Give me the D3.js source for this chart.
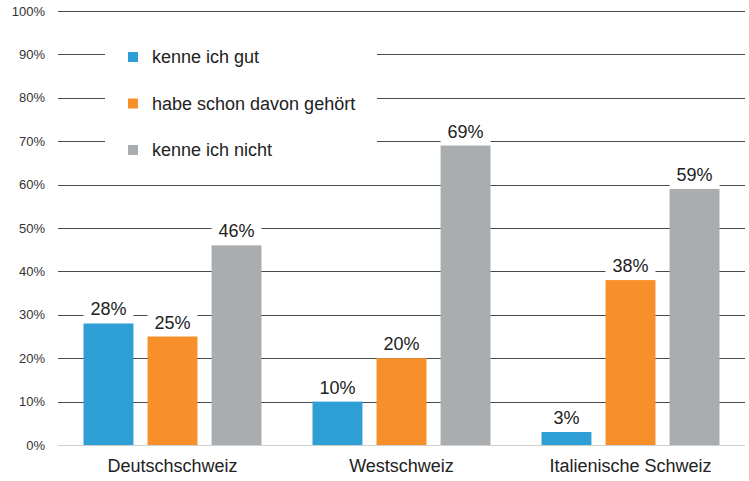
<!DOCTYPE html>
<html>
<head>
<meta charset="utf-8">
<script src="https://cdn.jsdelivr.net/npm/d3@7"></script>
<style>
  body { margin: 0; background: #fff; }
  text { font-family: "Liberation Sans", Arial, sans-serif; }
</style>
</head>
<body>
<div id="chart"></div>
<script>
var regions = ["Deutschschweiz", "Westschweiz", "Italienische Schweiz"];
var seriesNames = ["kenne ich gut", "habe schon davon gehört", "kenne ich nicht"];
var kenneGut = [28, 10, 3];
var schonGehoert = [25, 20, 38];
var kenneNicht = [46, 69, 59];
var yTicks = [0, 10, 20, 30, 40, 50, 60, 70, 80, 90, 100];
var colors = ["#2e9fd5", "#f7902b", "#aaadb0"];

var width = 749, height = 481;
var seriesValues = [kenneGut, schonGehoert, kenneNicht];

var svg = d3.select("#chart").append("svg")
    .attr("width", width)
    .attr("height", height);

var x0 = d3.scaleBand().domain(regions).range([58, 745]).padding(0);
var x1 = d3.scaleBand().domain(seriesNames).range([25.5, 203.5]).paddingInner(0.22);
var y = d3.scaleLinear().domain([0, 100]).range([445, 11]);

// gridlines
svg.append("g").selectAll("line")
    .data(yTicks)
    .enter().append("line")
    .attr("x1", 58).attr("x2", 745)
    .attr("y1", d => Math.round(y(d)) + 0.5)
    .attr("y2", d => Math.round(y(d)) + 0.5)
    .attr("stroke", d => d === 0 ? "#cfcfcf" : "#4a4a4a")
    .attr("stroke-width", 1);

// y tick labels
svg.append("g").selectAll("text")
    .data(yTicks)
    .enter().append("text")
    .attr("x", 45)
    .attr("y", d => y(d))
    .attr("dy", "0.35em")
    .attr("text-anchor", "end")
    .style("font-size", "13px")
    .attr("fill", "#333")
    .text(d => d + "%");

// legend box hides gridlines
svg.append("rect")
    .attr("x", 105).attr("y", 22)
    .attr("width", 272).attr("height", 150)
    .attr("fill", "#fff");

var legend = svg.append("g").selectAll("g")
    .data(seriesNames)
    .enter().append("g")
    .attr("transform", (d, i) => "translate(128," + (52 + i * 46.5) + ")");

legend.append("rect")
    .attr("width", 10).attr("height", 10)
    .attr("fill", (d, i) => colors[i]);

legend.append("text")
    .attr("x", 24).attr("y", 5)
    .attr("dy", "0.35em")
    .style("font-size", "18px")
    .attr("fill", "#222")
    .text(d => d);

// flatten for bars
var bars = [];
regions.forEach(function(r, ri) {
    seriesNames.forEach(function(s, si) {
        bars.push({ region: r, series: s, si: si, value: seriesValues[si][ri] });
    });
});

var groups = svg.append("g");

// white backing behind value labels
groups.selectAll(".labelbg")
    .data(bars)
    .enter().append("rect")
    .attr("class", "labelbg")
    .attr("x", d => x0(d.region) + x1(d.series))
    .attr("y", d => y(d.value) - 26)
    .attr("width", x1.bandwidth())
    .attr("height", 26)
    .attr("fill", "#fff");

groups.selectAll(".bar")
    .data(bars)
    .enter().append("rect")
    .attr("class", "bar")
    .attr("x", d => x0(d.region) + x1(d.series))
    .attr("y", d => y(d.value))
    .attr("width", x1.bandwidth())
    .attr("height", d => y(0) - y(d.value))
    .attr("fill", d => colors[d.si]);

groups.selectAll(".val")
    .data(bars)
    .enter().append("text")
    .attr("class", "val")
    .attr("x", d => x0(d.region) + x1(d.series) + x1.bandwidth() / 2)
    .attr("y", d => y(d.value) - 8)
    .attr("text-anchor", "middle")
    .style("font-size", "18px")
    .attr("fill", "#222")
    .text(d => d.value + "%");

// category labels
svg.append("g").selectAll("text")
    .data(regions)
    .enter().append("text")
    .attr("x", d => x0(d) + x0.bandwidth() / 2)
    .attr("y", 472)
    .attr("text-anchor", "middle")
    .style("font-size", "18px")
    .attr("fill", "#222")
    .text(d => d);
</script>
</body>
</html>
